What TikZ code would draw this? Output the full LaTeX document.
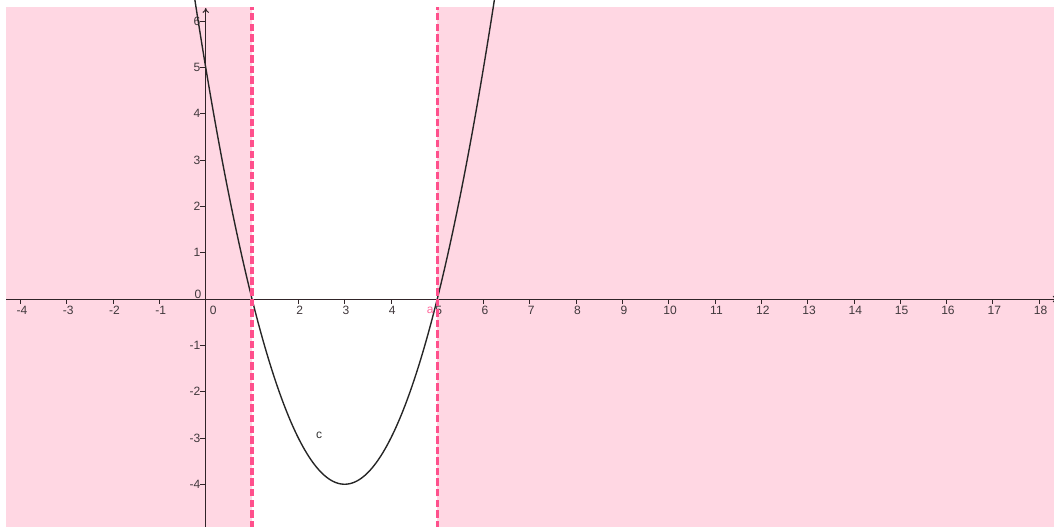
\documentclass[tikz,border=0pt]{standalone}
\usepackage{fontspec}
\setmainfont{Liberation Sans}
\usetikzlibrary{arrows.meta}
\definecolor{regionpink}{RGB}{255,215,227}
\definecolor{linepink}{RGB}{255,80,140}
\definecolor{axiscol}{RGB}{48,36,40}
\definecolor{labcol}{RGB}{64,56,60}
\tikzset{
  region/.style={fill=regionpink,draw=none},
  bound/.style={draw=linepink,line width=1.9pt,dash pattern=on 4.6pt off 1.9pt},
  axisline/.style={draw=axiscol,line width=0.6pt},
  tickline/.style={draw=axiscol,line width=0.5pt},
  ticklab/.style={text=labcol,font=\fontsize{7.4}{8.5}\selectfont,inner sep=0pt},
  curve/.style={draw=black!85,line width=0.85pt},
}
\begin{document}
\begin{tikzpicture}[x=1cm,y=1cm]
\useasboundingbox (-4.443,-4.903) rectangle (18.32,6.458);
\clip (-4.443,-4.903) rectangle (18.32,6.458);
% shaded regions
\fill[region] (-4.313,-4.95) rectangle (1,6.307);
\fill[region] (5,-4.95) rectangle (18.4,6.307);
% axes
\draw[axisline,-{To[length=3pt,width=4pt]}] (-4.313,0) -- (18.40,0);
\draw[axisline,-{To[length=3pt,width=4pt]}] (0,-4.95) -- (0,6.285);
% x ticks and labels
\foreach \x in {-4,-3,-2,-1,2,3,4,5,6,7,8,9,10,11,12,13,14,15,16,17,18}{
  \draw[tickline] (\x,0) -- (\x,-0.1);
  \node[ticklab] (xl\x) at (\x+0.03,-0.25) {\x};
}
\draw[tickline] (1,0) -- (1,-0.1);
\node[ticklab] (xl0) at (0.16,-0.24) {0};
% y ticks and labels
\foreach \y in {-4,-3,-2,-1,1,2,3,4,5,6}{
  \draw[tickline] (0,\y) -- (-0.12,\y);
  \node[ticklab,anchor=east] (yl\y) at (-0.11,\y) {\y};
}
\node[ticklab] (yl0) at (-0.17,0.11) {0};
% curve
\draw[curve,domain=-0.3:6.3,samples=200] plot (\x,{\x*\x-6*\x+5});
\node[ticklab,text=black!80] (clab) at (2.447,-2.94) {c};
% boundary lines
\draw[bound] (1,-4.95) -- (1,6.307);
\draw[bound] (5,-4.95) -- (5,6.307);
\node[ticklab,text=linepink!85] (alab) at (4.85,-0.25) {a};
\end{tikzpicture}
\end{document}
